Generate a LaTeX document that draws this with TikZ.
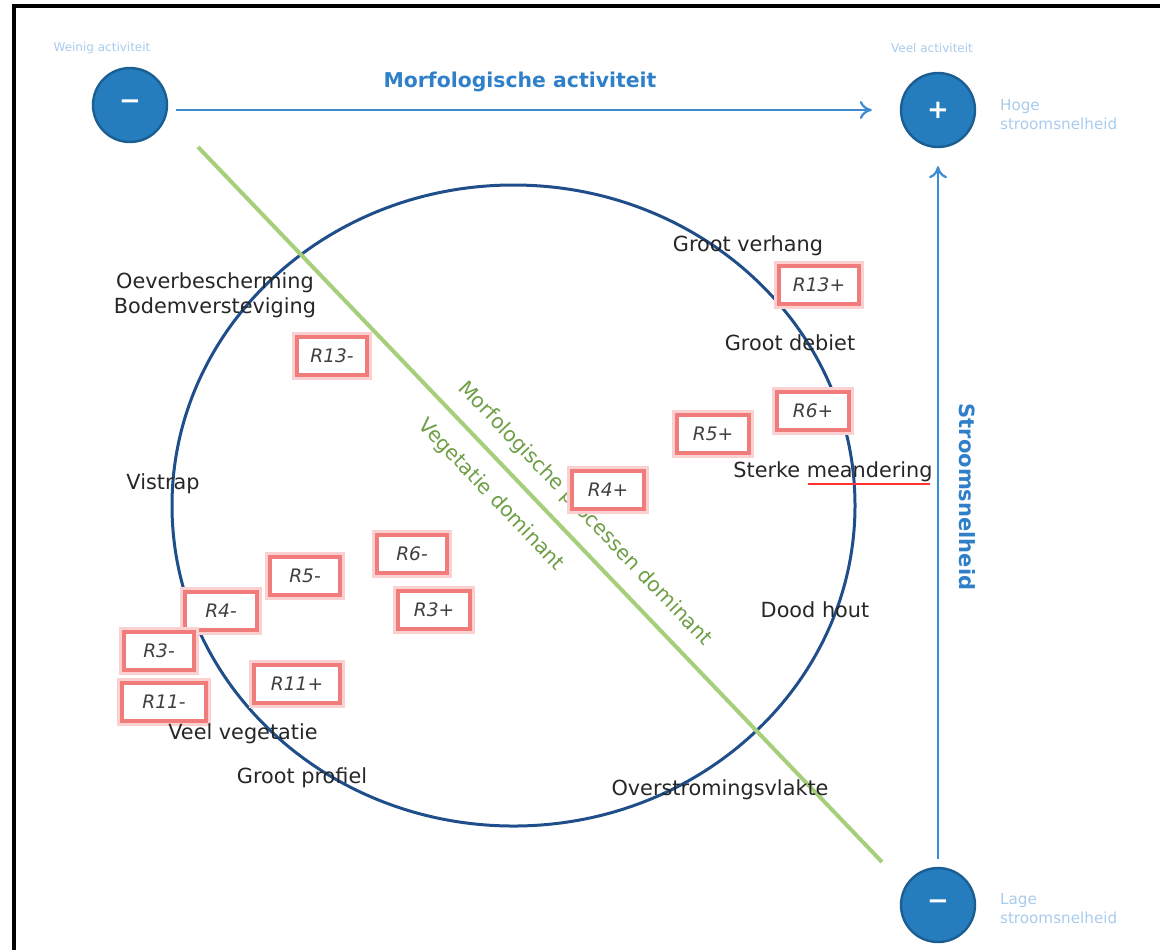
\documentclass[tikz,border=0pt]{standalone}
\usepackage{fontspec}
\setmainfont{DejaVu Sans}
\usetikzlibrary{arrows.meta}
\definecolor{circfill}{HTML}{257DBE}
\definecolor{circdraw}{HTML}{1B5E91}
\definecolor{arrblue}{HTML}{3D8BD0}
\definecolor{titleblue}{HTML}{2F80C8}
\definecolor{lightblue}{HTML}{A9CBEC}
\definecolor{ellblue}{HTML}{1F4E8A}
\definecolor{greenline}{HTML}{A6CF7B}
\definecolor{greentext}{HTML}{6E9E45}
\definecolor{redbox}{HTML}{F07C7C}
\definecolor{redglow}{HTML}{FAD0D0}
\tikzset{
  pm/.style={circle, fill=circfill, draw=circdraw, line width=1.2pt, minimum size=37pt, inner sep=0pt, text=white, font=\fontsize{13}{13}\selectfont},
  small/.style={text=lightblue, font=\fontsize{6}{7.5}\selectfont, align=left},
  lbl/.style={text=black!85, font=\fontsize{10.4}{12.5}\selectfont, align=center, inner sep=1pt},
  rbox/.style={draw=redbox, line width=2pt, fill=white, preaction={draw=redglow, line width=5pt},
     minimum height=19pt, minimum width=35pt, inner sep=2pt, text=black!75,
     font=\fontsize{9.3}{10}\selectfont\itshape},
  gtext/.style={text=greentext, font=\fontsize{10.2}{11}\selectfont, rotate=-46.3},
  axis/.style={draw=arrblue, line width=1.1pt, -{To[length=6pt,width=9pt]}},
  ttl/.style={text=titleblue, font=\fontsize{10.2}{11}\selectfont\bfseries}
}
\begin{document}
\begin{tikzpicture}[x=0.5pt,y=-0.5pt]
\useasboundingbox (0,0) rectangle (1160,950);
% frame
\draw[line width=1.6pt, black] (14,950) -- (14,6) -- (1160,6);
% big ellipse
\draw[ellblue, line width=1.5pt] (513.5,505.5) ellipse [x radius=170.75pt, y radius=160.25pt];
% green diagonal
\coordinate (g1) at (198,147);
\coordinate (g2) at (882,862);
\draw[greenline, line width=2pt] (g1) -- (g2);
\node[gtext] (gt1) at (585,514) {Morfologische processen dominant};
\node[gtext] (gt2) at (491,495) {Vegetatie dominant};
% circles
\node[pm] (ml) at (130,105) {\textbf{−}};
\node[pm] (pl) at (938,110) {\textbf{+}};
\node[pm] (mb) at (938,905) {\textbf{−}};
% axes
\coordinate (hs) at (ml.east |- pl);
\draw[axis, shorten <=4pt, shorten >=14pt] (hs) -- (pl);
\draw[axis, shorten <=4pt, shorten >=9pt] (mb) -- (pl);
\node[ttl] (t1) at (520,82) {Morfologische activiteit};
\node[ttl, rotate=-90, font=\fontsize{10.5}{12}\selectfont\bfseries] (t2) at (967,497) {Stroomsnelheid};
% small labels
\node[small] (s1) at (102,48) {Weinig activiteit};
\node[small] (s2) at (932,48) {Veel activiteit};
\node[small, anchor=west, font=\fontsize{7.6}{9.5}\selectfont] (s3) at (993,115) {Hoge\\stroomsnelheid};
\node[small, anchor=west, font=\fontsize{7.6}{9.5}\selectfont] (s4) at (993,909) {Lage\\stroomsnelheid};
% labels
\node[lbl] (l1) at (748,246) {Groot verhang};
\node[lbl] (l2) at (215,295) {Oeverbescherming\\Bodemversteviging};
\node[lbl] (l3) at (790,343) {Groot debiet};
\node[lbl] (l4) at (833,472) {Sterke meandering};
\draw[red!80, line width=0.6pt] (808,484) -- (930,484);
\node[lbl] (l5) at (163,484) {Vistrap};
\node[lbl] (l6) at (815,610) {Dood hout};
\node[lbl] (l8) at (302,778) {Groot profiel};
\node[lbl] (l9) at (720,790) {Overstromingsvlakte};
% red boxes
\node[rbox, minimum width=40pt] (r13p) at (819,285) {R13+};
\node[rbox] (r13m) at (332,356) {R13-};
\node[rbox, minimum width=36pt] (r6p) at (813,411) {R6+};
\node[rbox, minimum width=36pt] (r5p) at (713,434) {R5+};
\node[rbox, minimum width=36pt] (r4p) at (608,490) {R4+};
\node[rbox] (r6m) at (412,554) {R6-};
\node[rbox] (r5m) at (305,576) {R5-};
\node[rbox, minimum width=36pt] (r3p) at (434,610) {R3+};
\node[rbox, minimum width=36pt] (r4m) at (221,611) {R4-};
\node[rbox] (r3m) at (159,651) {R3-};
\node[rbox, minimum width=43pt] (r11p) at (297,684) {R11+};
\node[rbox, minimum width=42pt] (r11m) at (164,702) {R11-};
\node[lbl] (l7) at (243,734) {Veel vegetatie};
\end{tikzpicture}
\end{document}
